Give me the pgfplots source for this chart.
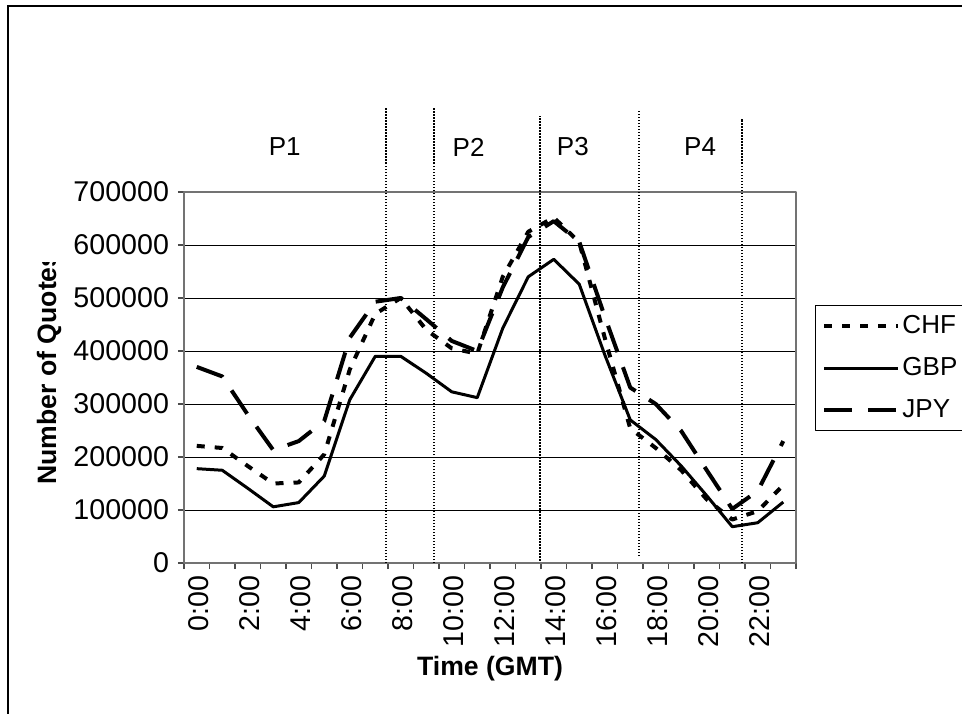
\documentclass[border=0pt]{standalone}
\usepackage{fontspec}
\setmainfont{Liberation Sans}
\usepackage{pgfplots}
\pgfplotsset{compat=1.18}
\usepackage{pgfplotstable}

\pgfplotstableread{
h CHF GBP JPY
0 221000 178000 370000
1 217000 175000 352000
2 183000 141000 280000
3 150000 106000 213000
4 152000 114000 230000
5 205000 164000 268000
6 365000 308000 425000
7 470000 390000 493000
8 500000 390000 500000
9 440000 358000 460000
10 405000 323000 419000
11 395000 312000 400000
12 540000 443000 520000
13 625000 540000 615000
14 652000 573000 645000
15 605000 526000 606000
16 425000 393000 465000
17 254000 270000 331000
18 217000 233000 300000
19 175000 183000 249000
20 120000 127000 175000
21 82000 68500 102000
22 98000 76000 136000
23 147000 115000 230000
}\data

\begin{document}
\begin{tikzpicture}[font=\fontsize{13}{15.6}\selectfont]
\useasboundingbox (-92pt,-75pt) rectangle (389pt,281.5pt);
\draw[line width=0.6pt] (-88pt,-90pt) rectangle (400pt,278.5pt);
\begin{axis}[
  at={(0pt,0pt)}, anchor=south west,
  scale only axis, width=306pt, height=185.5pt,
  xmin=-0.5, xmax=23.5, ymin=0, ymax=700000,
  clip=false,
  tick pos=left,
  xtick={0,2,...,22},
  xticklabels={0:00,2:00,4:00,6:00,8:00,10:00,12:00,14:00,16:00,18:00,20:00,22:00},
  major x tick style={draw=none},
  minor xtick={-0.5,0.5,...,23.5},
  minor x tick style={black!70, line width=0.6pt},
  ytick={0,100000,...,700000},
  major y tick style={black!70, line width=0.6pt},
  tick align=outside,
  major tick length=3pt, minor tick length=3pt,
  scaled y ticks=false,
  yticklabel style={/pgf/number format/fixed,/pgf/number format/1000 sep={},/pgf/number format/assume math mode=true, font=\fontsize{14.3}{17}\selectfont, xshift=-1pt},
  xticklabel style={rotate=90, anchor=east, font=\fontsize{14.3}{17}\selectfont, yshift=-1pt},
  ymajorgrids, major grid style={black, line width=0.5pt},
  axis line style={draw=black!55, line width=0.8pt},
  xlabel={Time (GMT)},
  xlabel style={at={(axis description cs:0.5,-0.285)}, anchor=center, font=\fontsize{13.3}{16}\selectfont\bfseries},
  legend style={at={(1.031,0.695)}, anchor=north west, draw=black, line width=0.5pt,
    inner xsep=3.5pt, inner ysep=3.2pt, row sep=7pt,
    nodes={inner sep=1pt, text height=9.5pt, text depth=2.5pt, text width=45pt, font=\fontsize{13}{15.6}\selectfont}},
  legend cell align=left,
  legend image code/.code={\draw[#1] (0pt,0pt) -- (37pt,0pt);},
  line join=round,
]
\addplot[black, line width=2pt, dash pattern=on 4pt off 5pt] table[x=h,y=CHF]{\data};
\addlegendentry{CHF}
\addplot[black, line width=1.5pt] table[x=h,y=GBP]{\data};
\addlegendentry{GBP}
\addplot[black, line width=2pt, dash pattern=on 14pt off 8pt] table[x=h,y=JPY]{\data};
\addlegendentry{JPY}
% period separators
\draw[black, line width=1pt, dash pattern=on 0.75pt off 0.75pt] (axis cs:7.44,0) -- (axis cs:7.44,860000);
\draw[black, line width=1pt, dash pattern=on 0.75pt off 0.75pt] (axis cs:9.29,0) -- (axis cs:9.29,860000);
\draw[black, line width=1pt, dash pattern=on 0.75pt off 0.75pt] (axis cs:13.46,3800) -- (axis cs:13.46,843000);
\draw[black, line width=1pt, dash pattern=on 0.75pt off 0.75pt] (axis cs:17.34,13000) -- (axis cs:17.34,853000);
\draw[black, line width=1pt, dash pattern=on 0.75pt off 0.75pt] (axis cs:21.38,0) -- (axis cs:21.38,838000);
\node at (axis cs:3.45,785000) {P1};
\node at (axis cs:10.66,785000) {P2};
\node at (axis cs:14.75,785000) {P3};
\node at (axis cs:19.74,785000) {P4};
\end{axis}
\begin{scope}
\clip (-92pt,-75pt) rectangle (0pt,150.5pt);
\node[rotate=90, font=\fontsize{13.3}{16}\selectfont\bfseries] at (-67.5pt,97.25pt) {Number of Quotes};
\end{scope}
\end{tikzpicture}
\end{document}
